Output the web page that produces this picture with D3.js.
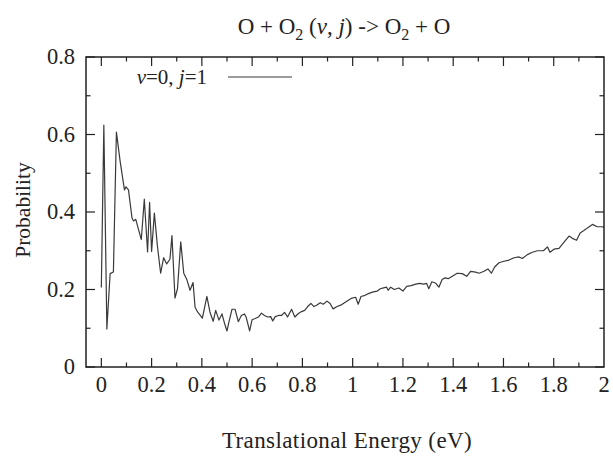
<!DOCTYPE html>
<html>
<head>
<meta charset="utf-8">
<script src="https://cdn.jsdelivr.net/npm/d3@7/dist/d3.min.js"></script>
<style>
  body { margin: 0; background: #fff; }
  text { font-family: "Liberation Serif", "DejaVu Serif", serif; fill: #222; }
</style>
</head>
<body>
<div id="chart"></div>
<script>
// translational energy (eV) and probability
const energy = [
  0.000, 0.010, 0.022, 0.035, 0.048, 0.060, 0.075, 0.092, 0.098, 0.108,
  0.122, 0.128, 0.137, 0.150, 0.159, 0.171, 0.184, 0.192, 0.200, 0.211,
  0.223, 0.236, 0.248, 0.260, 0.273, 0.281, 0.293, 0.303, 0.316, 0.328,
  0.340, 0.353, 0.365, 0.373, 0.383, 0.402, 0.420, 0.432, 0.445, 0.455,
  0.468, 0.480, 0.490, 0.500, 0.508, 0.520, 0.532, 0.545, 0.557, 0.569,
  0.576, 0.590, 0.600, 0.612, 0.625, 0.637, 0.649, 0.662, 0.674, 0.682,
  0.692, 0.705, 0.717, 0.729, 0.741, 0.757, 0.770, 0.784, 0.797, 0.809,
  0.821, 0.834, 0.846, 0.858, 0.871, 0.883, 0.898, 0.910, 0.922, 0.938,
  0.957, 0.975, 0.994, 1.012, 1.022, 1.033, 1.049, 1.065, 1.082, 1.098,
  1.110, 1.123, 1.135, 1.141, 1.151, 1.166, 1.184, 1.200, 1.215, 1.233,
  1.251, 1.266, 1.282, 1.294, 1.303, 1.315, 1.331, 1.343, 1.356, 1.368,
  1.380, 1.403, 1.416, 1.436, 1.454, 1.469, 1.489, 1.503, 1.523, 1.538,
  1.552, 1.565, 1.582, 1.602, 1.622, 1.642, 1.662, 1.675, 1.695, 1.715,
  1.735, 1.759, 1.775, 1.785, 1.801, 1.821, 1.841, 1.861, 1.874, 1.891,
  1.905, 1.920, 1.934, 1.954, 1.973, 1.993, 2.000
];
const probability = [
  0.205, 0.624, 0.098, 0.241, 0.245, 0.606, 0.530, 0.457, 0.465, 0.457,
  0.385, 0.377, 0.381, 0.350, 0.329, 0.433, 0.297, 0.425, 0.298, 0.397,
  0.313, 0.242, 0.282, 0.266, 0.278, 0.339, 0.178, 0.202, 0.323, 0.242,
  0.226, 0.198, 0.218, 0.154, 0.142, 0.126, 0.182, 0.142, 0.118, 0.146,
  0.121, 0.137, 0.113, 0.093, 0.117, 0.149, 0.149, 0.117, 0.133, 0.137,
  0.129, 0.093, 0.122, 0.125, 0.129, 0.139, 0.133, 0.129, 0.130, 0.119,
  0.130, 0.133, 0.133, 0.141, 0.129, 0.149, 0.129, 0.138, 0.143, 0.146,
  0.156, 0.164, 0.156, 0.160, 0.166, 0.162, 0.170, 0.164, 0.150, 0.156,
  0.161, 0.169, 0.177, 0.180, 0.162, 0.182, 0.185, 0.190, 0.194, 0.196,
  0.202, 0.204, 0.206, 0.198, 0.206, 0.200, 0.204, 0.196, 0.208, 0.210,
  0.214, 0.216, 0.214, 0.216, 0.202, 0.220, 0.216, 0.206, 0.226, 0.230,
  0.228, 0.237, 0.242, 0.241, 0.234, 0.247, 0.245, 0.242, 0.247, 0.253,
  0.242, 0.258, 0.269, 0.273, 0.276, 0.282, 0.284, 0.280, 0.290, 0.296,
  0.300, 0.300, 0.310, 0.296, 0.304, 0.306, 0.322, 0.338, 0.332, 0.327,
  0.346, 0.352, 0.359, 0.368, 0.362, 0.362, 0.360
];

const xTicks = [0, 0.2, 0.4, 0.6, 0.8, 1, 1.2, 1.4, 1.6, 1.8, 2];
const yTicks = [0, 0.2, 0.4, 0.6, 0.8];
const xMinor = [0.1, 0.3, 0.5, 0.7, 0.9, 1.1, 1.3, 1.5, 1.7, 1.9];
const yMinor = [0.1, 0.3, 0.5, 0.7];

const width = 613, height = 462;
const plotLeft = 86, plotRight = 604, plotTop = 57, plotBottom = 367;

const svg = d3.select("#chart").append("svg")
    .attr("width", width)
    .attr("height", height);

const x = d3.scaleLinear().domain([-0.061, 2]).range([plotLeft, plotRight]);
const y = d3.scaleLinear().domain([0, 0.8]).range([plotBottom, plotTop]);

const majorLen = 9, minorLen = 4.5;

// ticks on all four sides, pointing inward
const tickG = svg.append("g").attr("stroke", "#222").attr("stroke-width", 1.2);

function xTickMarks(vals, len) {
    tickG.selectAll(null).data(vals).enter().append("line")
        .attr("x1", d => x(d)).attr("x2", d => x(d))
        .attr("y1", plotBottom).attr("y2", plotBottom - len);
    tickG.selectAll(null).data(vals).enter().append("line")
        .attr("x1", d => x(d)).attr("x2", d => x(d))
        .attr("y1", plotTop).attr("y2", plotTop + len);
}
function yTickMarks(vals, len) {
    tickG.selectAll(null).data(vals).enter().append("line")
        .attr("y1", d => y(d)).attr("y2", d => y(d))
        .attr("x1", plotLeft).attr("x2", plotLeft + len);
    tickG.selectAll(null).data(vals).enter().append("line")
        .attr("y1", d => y(d)).attr("y2", d => y(d))
        .attr("x1", plotRight).attr("x2", plotRight - len);
}
xTickMarks(xTicks.filter(d => d < 2), majorLen);
xTickMarks(xMinor, minorLen);
yTickMarks(yTicks, majorLen);
yTickMarks(yMinor, minorLen);

// tick labels
svg.append("g").selectAll("text").data(xTicks).enter().append("text")
    .attr("x", d => x(d))
    .attr("y", plotBottom + 25)
    .attr("text-anchor", "middle")
    .style("font-size", "22.5px")
    .text(d => d3.format("")(d));

svg.append("g").selectAll("text").data(yTicks).enter().append("text")
    .attr("x", plotLeft - 11)
    .attr("y", d => y(d) + 7)
    .attr("text-anchor", "end")
    .style("font-size", "22.5px")
    .text(d => d3.format("")(d));

// the curve
const line = d3.line()
    .x((d, i) => x(energy[i]))
    .y(d => y(d));

svg.append("path")
    .datum(probability)
    .attr("fill", "none")
    .attr("stroke", "#3a3a3a")
    .attr("stroke-width", 1.2)
    .attr("stroke-linejoin", "round")
    .attr("d", line);

// frame
svg.append("rect")
    .attr("x", plotLeft).attr("y", plotTop)
    .attr("width", plotRight - plotLeft).attr("height", plotBottom - plotTop)
    .attr("fill", "none")
    .attr("stroke", "#222")
    .attr("stroke-width", 1.5);

// legend
const legend = svg.append("text")
    .attr("x", 207).attr("y", 84)
    .attr("text-anchor", "end")
    .style("font-size", "21px");
legend.append("tspan").style("font-style", "italic").text("v");
legend.append("tspan").text("=0, ");
legend.append("tspan").style("font-style", "italic").text("j");
legend.append("tspan").text("=1");

svg.append("line")
    .attr("x1", 228).attr("x2", 292)
    .attr("y1", 77).attr("y2", 77)
    .attr("stroke", "#3a3a3a")
    .attr("stroke-width", 1.2);

// title
const title = svg.append("text")
    .attr("x", 344).attr("y", 34)
    .attr("text-anchor", "middle")
    .style("font-size", "23px");
title.append("tspan").text("O + O");
title.append("tspan").attr("dy", 6).style("font-size", "16px").text("2");
title.append("tspan").attr("dy", -6).text(" (");
title.append("tspan").style("font-style", "italic").text("v");
title.append("tspan").text(", ");
title.append("tspan").style("font-style", "italic").text("j");
title.append("tspan").text(") -> O");
title.append("tspan").attr("dy", 6).style("font-size", "16px").text("2");
title.append("tspan").attr("dy", -6).text(" + O");

// axis titles
svg.append("text")
    .attr("x", 347)
    .attr("y", 448)
    .attr("text-anchor", "middle")
    .style("font-size", "23px")
    .style("letter-spacing", "0.4px")
    .text("Translational Energy (eV)");

svg.append("text")
    .attr("transform", "translate(30,210) rotate(-90)")
    .attr("text-anchor", "middle")
    .style("font-size", "21.5px")
    .text("Probability");
</script>
</body>
</html>
